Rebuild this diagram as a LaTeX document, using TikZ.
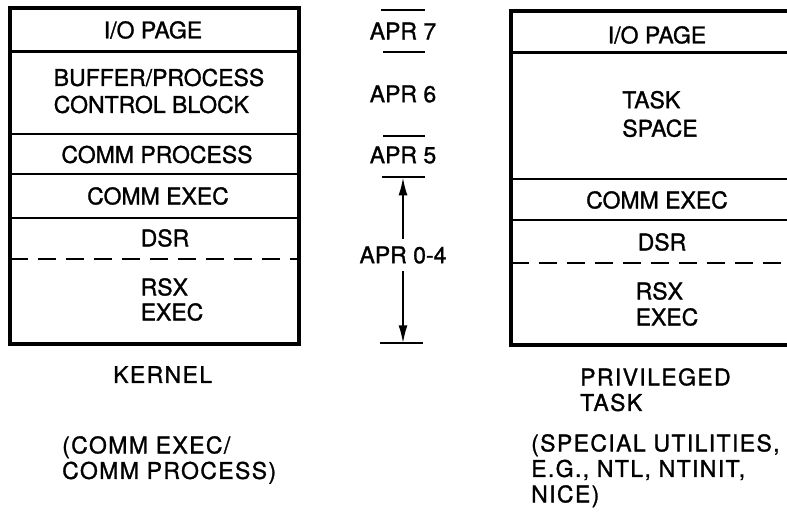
\documentclass[tikz,border=0pt]{standalone}
\usepackage{fontspec}
\setmainfont[FakeBold=1.2]{TeX Gyre Heros}
\newfontfamily\widesans[LetterSpace=6,FakeBold=1.2]{TeX Gyre Heros}
\usepackage{tikz}
\usetikzlibrary{arrows.meta}

\begin{document}
\begin{tikzpicture}[x=1pt,y=-1pt,
  every node/.style={font=\fontsize{23}{27}\selectfont,inner sep=0pt},
  frame/.style={line width=4pt},
  rowline/.style={line width=2.5pt},
  aprtick/.style={line width=2pt},
  aprarrow/.style={line width=2pt,-{Latex[length=18pt,width=9pt]}},
  capt/.style={font=\fontsize{23}{25.5}\selectfont\widesans,align=left,anchor=north west}]
\clip (0,0) rectangle (787,514);
% kernel
\draw[frame] (10,8) rectangle (298.5,344);
\draw[rowline] (10,51.5) -- (298.5,51.5);
\draw[rowline] (10,134) -- (298.5,134);
\draw[rowline] (10,174) -- (298.5,174);
\draw[rowline] (10,218) -- (298.5,218);
\draw[rowline,dash pattern=on 18pt off 10pt] (10,259) -- (298.5,259);
\node (kio) at (153,30) {I/O PAGE};
\node[align=left] (kbuf) at (159,91) {BUFFER/PROCESS\\CONTROL BLOCK};
\node (kproc) at (157,154.5) {COMM PROCESS};
\node (kexec) at (158,196) {COMM EXEC};
\node (kdsr) at (165,238) {DSR};
\node[align=left,font=\fontsize{23}{25}\selectfont] (krsx) at (172,299.5) {RSX\\EXEC};
% APR scale
\draw[aprtick] (381,10) -- (425,10);
\draw[aprtick] (383,52.3) -- (425,52.3);
\draw[aprtick] (383,136) -- (425,136);
\draw[aprtick] (382,177.3) -- (425,177.3);
\draw[aprtick] (380,343.3) -- (423,343.3);
\coordinate (aprtop) at (403,177.3);
\coordinate (aprbot) at (403,343.3);
\node (apr7) at (403,31) {APR 7};
\node (apr6) at (403,94) {APR 6};
\node (apr5) at (403,155) {APR 5};
\node[inner ysep=7pt] (apr04) at (403,255) {APR 0-4};
\draw[aprarrow] (apr04) -- (aprtop);
\draw[aprarrow] (apr04) -- (aprbot);
% privileged task
\draw[frame] (511,11) rectangle (806,345);
\draw[rowline] (511,52.7) -- (806,52.7);
\draw[rowline] (511,179) -- (806,179);
\draw[rowline] (511,220) -- (806,220);
\draw[rowline,dash pattern=on 18pt off 10pt] (511,263) -- (806,263);
\node (tio) at (657,35) {I/O PAGE};
\node[align=left,font=\fontsize{23}{28.5}\selectfont] (tspace) at (660,114) {TASK\\SPACE};
\node (texec) at (657,200) {COMM EXEC};
\node (tdsr) at (662,242) {DSR};
\node[align=left,font=\fontsize{23}{26}\selectfont] (trsx) at (667,304) {RSX\\EXEC};
% captions
\node[capt] (kernel) at (113,366) {KERNEL};
\node[capt] (kernnote) at (62,436) {(COMM EXEC/\\COMM PROCESS)};
\node[capt] (privtask) at (580,368) {PRIVILEGED\\TASK};
\node[capt] (privnote) at (531,434) {(SPECIAL UTILITIES,\\E.G., NTL, NTINIT,\\NICE)};
\end{tikzpicture}
\end{document}
